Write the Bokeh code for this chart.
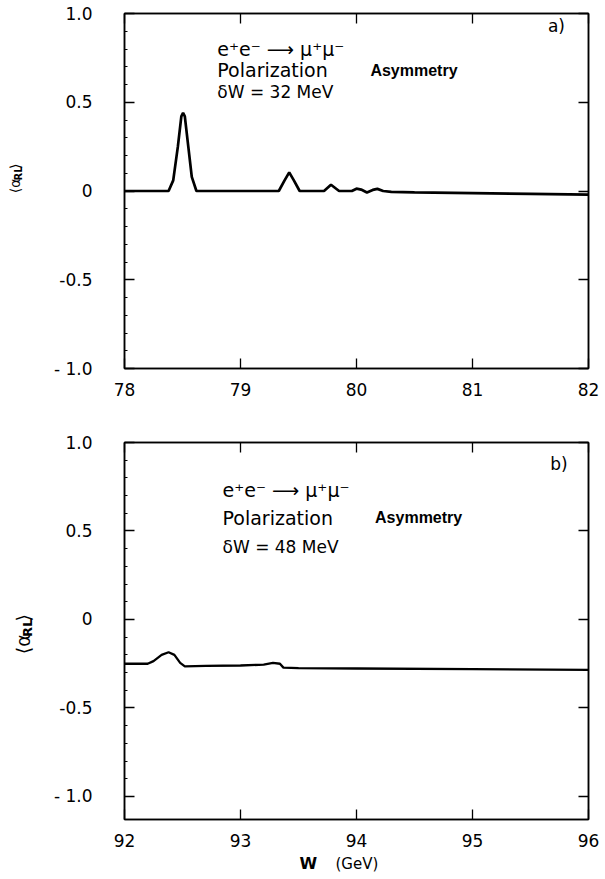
import math
from bokeh.plotting import figure
from bokeh.layouts import column, row
from bokeh.models import Label, LinearAxis, FixedTicker, Range1d
from bokeh.core.properties import value
from bokeh.embed import file_html
from bokeh.resources import INLINE

# ---- data ----
w_a = [78.0, 78.38, 78.42, 78.46, 78.49, 78.505, 78.52, 78.55, 78.58, 78.62,
       79.33, 79.38, 79.42, 79.46, 79.51,
       79.72, 79.78, 79.85,
       79.96, 80.0, 80.04, 80.09, 80.14, 80.18, 80.23, 80.3,
       80.5, 81.0, 81.5, 82.0]
a_a = [0.0, 0.0, 0.06, 0.25, 0.42, 0.44, 0.42, 0.25, 0.08, 0.0,
       0.0, 0.06, 0.105, 0.06, 0.0,
       0.0, 0.035, 0.0,
       0.0, 0.013, 0.008, -0.008, 0.006, 0.012, 0.0, -0.005,
       -0.008, -0.012, -0.016, -0.02]

w_b = [92.0, 92.2, 92.25, 92.32, 92.38, 92.43, 92.48, 92.52, 92.7, 93.0,
       93.2, 93.28, 93.34, 93.37, 93.5, 94.0, 95.0, 96.0]
a_b = [-0.25, -0.25, -0.235, -0.2, -0.185, -0.2, -0.245, -0.265, -0.262, -0.26,
       -0.255, -0.245, -0.25, -0.272, -0.275, -0.277, -0.28, -0.285]

x_ticks_a = [78, 79, 80, 81, 82]
x_ticks_b = [92, 93, 94, 95, 96]
y_ticks = [-1.0, -0.5, 0.0, 0.5, 1.0]
y_tick_labels = {-1.0: "- 1.0", -0.5: "-0.5", 0.0: "0", 0.5: "0.5", 1.0: "1.0"}

FONT = "DejaVu Sans"
TS = "17px"
SIDE_W = 40


def style_axes(p):
    for ax in p.xaxis + p.yaxis:
        ax.axis_line_color = "black"
        ax.axis_line_width = 1.5
        ax.major_tick_line_color = "black"
        ax.major_tick_line_width = 1.3
        ax.minor_tick_line_color = "black"
        ax.major_tick_in = 10
        ax.major_tick_out = 0
        ax.minor_tick_in = 3
        ax.minor_tick_out = 0
        ax.major_label_text_font = FONT
        ax.major_label_text_font_size = TS
        ax.major_label_text_color = "black"


def make_panel(height, top, bottom, xr, yr, xt):
    p = figure(width=605 - SIDE_W, height=height, output_backend="svg", toolbar_location=None,
               x_range=Range1d(*xr), y_range=Range1d(*yr),
               min_border_left=124 - SIDE_W, min_border_right=17,
               min_border_top=top, min_border_bottom=bottom)
    p.grid.visible = False
    p.outline_line_color = "black"
    p.outline_line_width = 1.5
    p.background_fill_color = "white"
    p.border_fill_color = "white"
    p.xaxis.ticker = FixedTicker(ticks=xt)
    p.yaxis.ticker = FixedTicker(ticks=y_ticks,
                                 minor_ticks=[round(-1 + 0.1 * i, 2) for i in range(21)])
    p.yaxis.major_label_overrides = y_tick_labels
    p.yaxis.major_label_standoff = 32
    p.xaxis.major_label_standoff = 14
    ax_top = LinearAxis(ticker=FixedTicker(ticks=xt),
                        major_label_overrides={t: "" for t in xt},
                        major_label_standoff=0)
    ax_right = LinearAxis(ticker=FixedTicker(ticks=y_ticks),
                          major_label_overrides={t: "" for t in y_ticks},
                          major_label_standoff=0)
    p.add_layout(ax_top, "above")
    p.add_layout(ax_right, "right")
    style_axes(p)
    for ax in (ax_top, ax_right):
        ax.minor_tick_in = 0
    return p


def blank(width, height):
    f = figure(width=width, height=height, output_backend="svg", toolbar_location=None,
               x_range=Range1d(0, width), y_range=Range1d(0, height),
               x_axis_location=None, y_axis_location=None,
               min_border_left=0, min_border_right=0, min_border_top=0, min_border_bottom=0)
    f.grid.visible = False
    f.outline_line_color = None
    f.background_fill_color = "white"
    f.border_fill_color = "white"
    return f


def put(f, x, y, s, size, bold=False, angle=0.0, font=FONT, align="left"):
    f.text(x=[x], y=[y], text=[s], text_font=value(font), text_font_size=size,
           text_font_style="bold" if bold else "normal", angle=angle,
           text_align=align, text_baseline="middle", text_color="black")


def side_label(height, start_from_top, xc, big):
    # rotated <alpha_RL>, pieces reading bottom to top
    f = blank(SIDE_W, height)
    y0 = height - start_from_top
    small = big * 0.68
    w1 = 1.05 * big
    w2 = 1.41 * small
    put(f, xc, y0, "⟨α", "%dpx" % round(big), angle=math.pi / 2)
    put(f, xc + big * 0.25, y0 + w1, "RL", "%dpx" % round(small), bold=True, angle=math.pi / 2)
    put(f, xc, y0 + w1 + w2, "⟩", "%dpx" % round(big), angle=math.pi / 2)
    return f


def add_text(p, x, y, s, bold=False, size="16px", font=FONT):
    p.add_layout(Label(x=x, y=y, text=s, text_font=font, text_font_size=size,
                       text_font_style="bold" if bold else "normal",
                       text_baseline="middle", text_align="left", text_color="black"))


# ---- panel a ----
HA = 415
pa = make_panel(HA, 13, 47, (78, 82), (-1.0, 1.0), x_ticks_a)
pa.line(w_a, a_a, line_color="black", line_width=2.7)
add_text(pa, 78.80, 0.80, "e⁺e⁻ ⟶ μ⁺μ⁻", size="19px")
add_text(pa, 78.80, 0.68, "Polarization", size="19px")
add_text(pa, 80.12, 0.68, "Asymmetry", bold=True, size="16px", font="Liberation Sans")
add_text(pa, 78.80, 0.555, "δW = 32 MeV", size="17px")
add_text(pa, 81.65, 0.93, "a)", size="17px")

# ---- panel b ----
HB = 438
pb = make_panel(HB, 27, 34, (92, 96), (-1.13, 1.0), x_ticks_b)
pb.line(w_b, a_b, line_color="black", line_width=2.3)
add_text(pb, 92.845, 0.73, "e⁺e⁻ ⟶ μ⁺μ⁻", size="19px")
add_text(pb, 92.845, 0.575, "Polarization", size="19px")
add_text(pb, 94.16, 0.575, "Asymmetry", bold=True, size="16px", font="Liberation Sans")
add_text(pb, 92.845, 0.41, "δW = 48 MeV", size="17px")
add_text(pb, 95.67, 0.88, "b)", size="17px")

# ---- caption under panel b ----
HC = 879 - HA - HB
cap = blank(605, HC)
put(cap, 299, HC - 10, "W", "16px", bold=True)
put(cap, 335, HC - 10, "(GeV)", "15px")

layout = column(row(side_label(HA, 210, 14, 14), pa, spacing=0),
                row(side_label(HB, 661 - HA, 22, 19), pb, spacing=0),
                cap, spacing=0)
open("out.html", "w").write(file_html(layout, INLINE))
